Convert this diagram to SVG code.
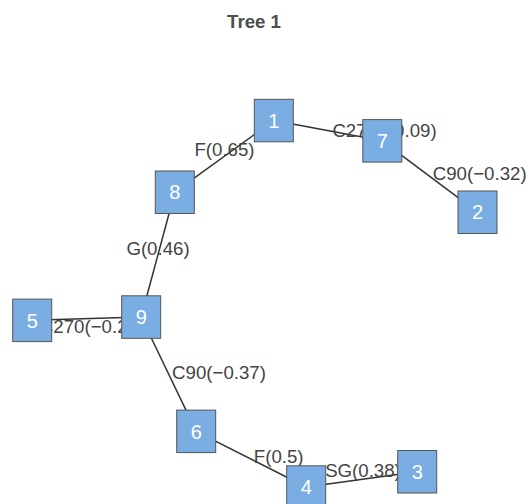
<svg xmlns="http://www.w3.org/2000/svg" width="530" height="504" viewBox="0 0 530 504">
<style>
.bg{fill:#ffffff}
.title{font-family:"Liberation Sans",Arial,sans-serif;font-size:18.67px;font-weight:bold;fill:#4d4d4d;text-anchor:middle}
.edge{stroke:#333333;stroke-width:1.5;fill:none}
.elabel{font-family:"Liberation Sans",Arial,sans-serif;font-size:18.67px;fill:#444444;text-anchor:middle}
.box{fill:#7AAEE2;stroke:#555555;stroke-width:1}
.nlabel{font-family:"Liberation Sans",Arial,sans-serif;font-size:20px;fill:#ffffff;text-anchor:middle}
</style>
<rect class="bg" x="0" y="0" width="530" height="504"/>
<text class="title" x="254" y="28">Tree 1</text>
<g id="connectors">
<line class="edge" x1="273.8" y1="120.5" x2="382.3" y2="140.8"/>
<line class="edge" x1="382.3" y1="140.8" x2="477.5" y2="212.2"/>
<line class="edge" x1="273.8" y1="120.5" x2="174.8" y2="192.2"/>
<line class="edge" x1="174.8" y1="192.2" x2="141.2" y2="317"/>
<line class="edge" x1="141.2" y1="317" x2="32.2" y2="320.3"/>
<line class="edge" x1="141.2" y1="317" x2="196.2" y2="431.3"/>
<line class="edge" x1="196.2" y1="431.3" x2="306.2" y2="487"/>
<line class="edge" x1="306.2" y1="487" x2="417.2" y2="471.7"/>
</g>
<g id="edge-labels">
<text class="elabel" x="384.5" y="136.5">C270(−0.09)</text>
<text class="elabel" x="479.7" y="180">C90(−0.32)</text>
<text class="elabel" x="224.5" y="156">F(0.65)</text>
<text class="elabel" x="158" y="255">G(0.46)</text>
<text class="elabel" x="92" y="333">C270(−0.21)</text>
<text class="elabel" x="219" y="379">C90(−0.37)</text>
<text class="elabel" x="278.7" y="463">F(0.5)</text>
<text class="elabel" x="363" y="477">SG(0.38)</text>
</g>
<g id="node-1"><rect class="box" x="254.3" y="99.3" width="39" height="42.5"/><text class="nlabel" x="273.8" y="127.7">1</text></g>
<g id="node-7"><rect class="box" x="362.8" y="119.6" width="39" height="42.5"/><text class="nlabel" x="382.3" y="148">7</text></g>
<g id="node-2"><rect class="box" x="458" y="191" width="39" height="42.5"/><text class="nlabel" x="477.5" y="219.4">2</text></g>
<g id="node-8"><rect class="box" x="155.3" y="171" width="39" height="42.5"/><text class="nlabel" x="174.8" y="199.4">8</text></g>
<g id="node-9"><rect class="box" x="121.7" y="295.8" width="39" height="42.5"/><text class="nlabel" x="141.2" y="324.2">9</text></g>
<g id="node-5"><rect class="box" x="12.7" y="299.1" width="39" height="42.5"/><text class="nlabel" x="32.2" y="327.5">5</text></g>
<g id="node-6"><rect class="box" x="176.7" y="410.1" width="39" height="42.5"/><text class="nlabel" x="196.2" y="438.5">6</text></g>
<g id="node-4"><rect class="box" x="286.7" y="465.8" width="39" height="42.5"/><text class="nlabel" x="306.2" y="494.2">4</text></g>
<g id="node-3"><rect class="box" x="397.7" y="450.5" width="39" height="42.5"/><text class="nlabel" x="417.2" y="478.9">3</text></g>
</svg>
